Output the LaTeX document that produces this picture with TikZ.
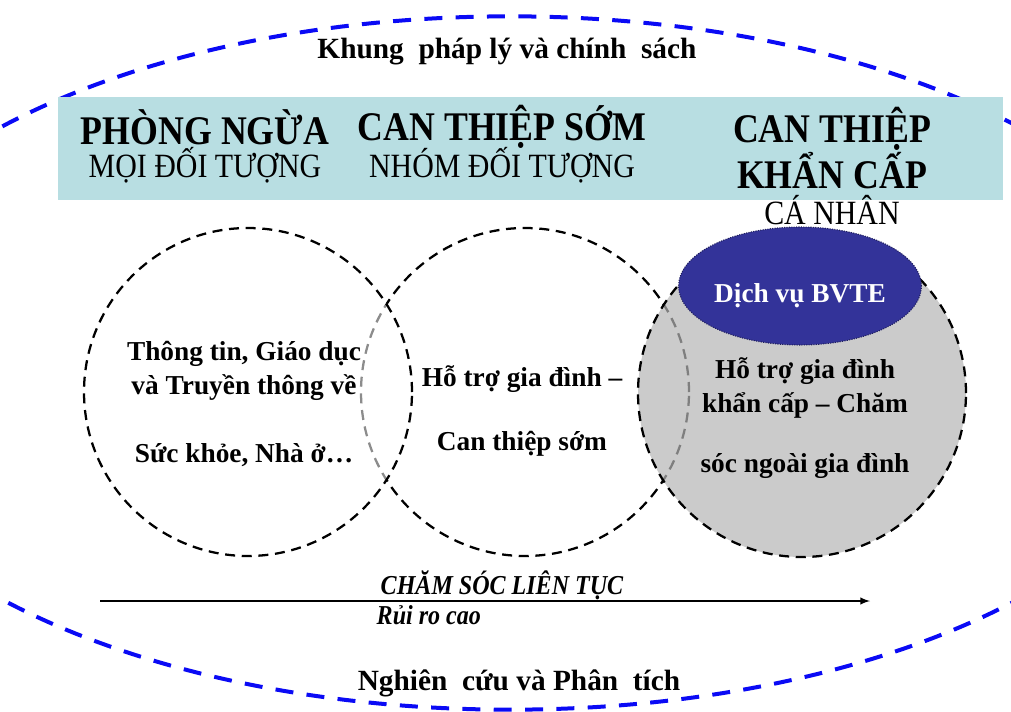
\documentclass[tikz,border=0pt]{standalone}
\usepackage{fontspec}
\setmainfont{Liberation Serif}
\newfontfamily\narrowserif[FakeStretch=0.88]{Liberation Serif}
\usetikzlibrary{shapes.geometric}
\definecolor{bandteal}{RGB}{184,222,226}
\definecolor{bvteblue}{RGB}{51,51,153}
\definecolor{frameblue}{RGB}{10,10,245}

\begin{document}
\begin{tikzpicture}[x=0.75pt, y=-0.75pt,
    ring/.style={circle, draw=black, line width=1.7pt, dash pattern=on 7.5pt off 5pt,
      minimum size=246pt, inner sep=0pt},
    frame/.style={draw=frameblue, line width=3pt, dash pattern=on 13.5pt off 10pt},
    heading/.style={font=\narrowserif\fontsize{30.5}{31.5}\selectfont\bfseries, align=center},
    subheading/.style={font=\narrowserif\fontsize{25.5}{28}\selectfont},
    framelabel/.style={font=\fontsize{22}{26}\selectfont\bfseries},
    ringtext/.style={font=\fontsize{20.5}{25.5}\selectfont\bfseries, align=center},
    flowlabel/.style={font=\narrowserif\fontsize{20.5}{23}\selectfont\bfseries\itshape}]
  \useasboundingbox (0,0) rectangle (1011,711);
  \begin{scope}
    \clip (0,0) rectangle (1011,711);
    \draw[frame] (510,363) ellipse [x radius=521pt, y radius=260pt];
  \end{scope}
  \fill[bandteal] (58,97) rectangle (1003,200);

  \node[ring] (early) at (525,392) {};
  \node[ring, fill=white, fill opacity=0.55] (prevention) at (248,392) {};
  \node[ring, fill=black!29, fill opacity=0.7] (emergency) at (802,393) {};
  \node[ellipse, draw=bvteblue!60!black, densely dotted, line width=0.8pt, fill=bvteblue,
    minimum width=168.75pt, minimum height=88.5pt, inner sep=0pt, text=white,
    text height=24pt, text depth=0pt,
    font=\fontsize{20.5}{24}\selectfont\bfseries] (bvte) at (800,286) {Dịch vụ BVTE};

  \node[framelabel] (policy) at (507,52) {Khung\enspace pháp lý và chính\enspace sách};
  \node[heading] (prevhead) at (205,127) {PHÒNG NGỪA};
  \node[subheading] (prevsub) at (205,165) {MỌI ĐỐI TƯỢNG};
  \node[heading] (earlyhead) at (502,127) {CAN THIỆP SỚM};
  \node[subheading] (earlysub) at (502,165) {NHÓM ĐỐI TƯỢNG};
  \node[heading] (emerghead) at (832,148) {CAN THIỆP\\KHẨN CẤP};
  \node[subheading] (emergsub) at (832,210) {CÁ NHÂN};

  \node[ringtext] (prevtext) at (244,404)
    {Thông tin, Giáo dục\\và Truyền thông về\\[25pt]Sức khỏe, Nhà ở…};
  \node[ringtext] (earlytext) at (522,411) {Hỗ trợ gia đình –\\[22pt]Can thiệp sớm};
  \node[ringtext] (emergtext) at (805,418)
    {Hỗ trợ gia đình\\khẩn cấp – Chăm\\[19.5pt]sóc ngoài gia đình};

  \coordinate (riskstart) at (100,601);
  \coordinate (riskend) at (870,601);
  \draw[line width=1.5pt, -latex] (riskstart) -- (riskend);
  \node[flowlabel] (continuum) at (502,585) {CHĂM SÓC LIÊN TỤC};
  \node[flowlabel, anchor=west] (risk) at (372,615) {Rủi ro cao};
  \node[framelabel] (research) at (519,683) {Nghiên\enspace cứu và Phân\enspace tích};
\end{tikzpicture}
\end{document}
